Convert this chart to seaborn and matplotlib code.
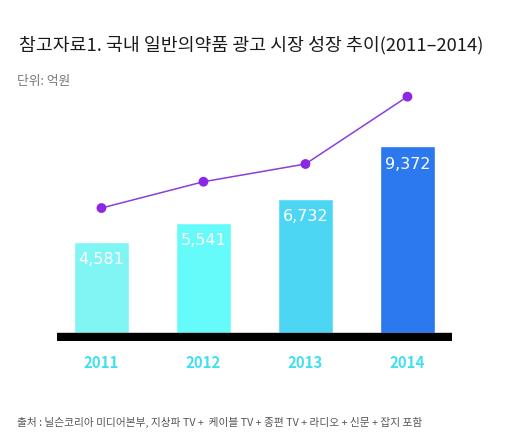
import matplotlib
matplotlib.use("Agg")
import matplotlib.pyplot as plt
import seaborn as sns
import pandas as pd

years = ["2011", "2012", "2013", "2014"]
ad_market = [4581, 5541, 6732, 9372]
value_labels = ["4,581", "5,541", "6,732", "9,372"]
trend_line = [6270, 7590, 8480, 11860]
bar_colors = ["#80f6f4", "#66fbfb", "#4dd6f4", "#2b78ef"]

title = "참고자료1. 국내 일반의약품 광고 시장 성장 추이(2011–2014)"
unit = "단위: 억원"
source = "출처 : 닐슨코리아 미디어본부, 지상파 TV +  케이블 TV + 종편 TV + 라디오 + 신문 + 잡지 포함"

sns.set_theme(style="white")
plt.rcParams['font.family'] = ['Noto Sans CJK KR', 'DejaVu Sans']

df = pd.DataFrame({"year": years, "value": ad_market})

W, H = 520, 445
fig = plt.figure(figsize=(W / 100, H / 100), dpi=100)
# axes from x=57..452 px, y(top)=80..341 px
ax = fig.add_axes([57 / W, (H - 341) / H, (452 - 57) / W, (341 - 80) / H])

sns.barplot(data=df, x="year", y="value", hue="year", palette=bar_colors,
            width=0.54, legend=False, ax=ax, saturation=1)
ax.plot(range(len(years)), trend_line, color="#8a3fd6", lw=1.1, zorder=3)
ax.scatter(range(len(years)), trend_line, s=50, color="#8a28e6", zorder=4,
           edgecolor="none")

px_per_unit = 0.01993
base = -8 / px_per_unit
top = base + 261 / px_per_unit
ax.set_ylim(base, top)
ax.set_xlim(-0.436, 3.437)
ax.axhspan(base, 0, color="black", zorder=5)

for i, (v, lab) in enumerate(zip(ad_market, value_labels)):
    ax.text(i, v - 18 / px_per_unit, lab, ha="center", va="center",
            color="white", fontsize=11.5, zorder=6,
            family=["DejaVu Sans"])

for s in ax.spines.values():
    s.set_visible(False)
ax.set_yticks([])
ax.set_xlabel("")
ax.set_ylabel("")
ax.tick_params(axis="x", length=0, pad=10, labelsize=10.8, colors="#40e0ef")
for t in ax.get_xticklabels():
    t.set_fontweight("bold")

fig.text(19 / W, 1 - 45 / H, title, fontsize=13.2, color="#1a1a1a",
         ha="left", va="center")
fig.text(17 / W, 1 - 82 / H, unit, fontsize=9.2, color="#777777",
         ha="left", va="center")
fig.text(17 / W, 1 - 422 / H, source, fontsize=7.7, color="#555555",
         ha="left", va="center")

fig.savefig("out.png", dpi=100)
